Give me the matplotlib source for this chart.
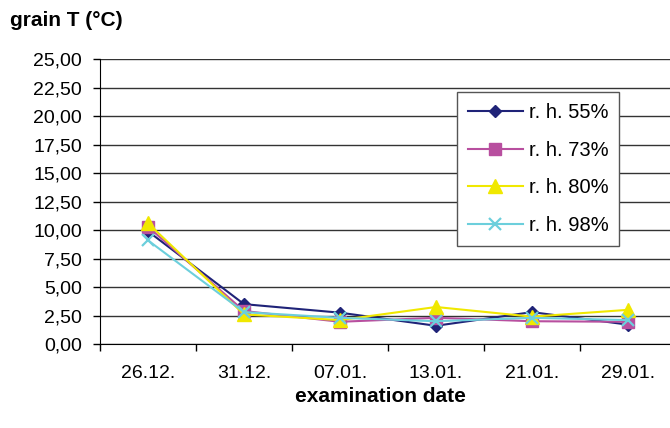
import matplotlib
matplotlib.use("Agg")
import matplotlib.pyplot as plt
from matplotlib.ticker import FuncFormatter, FixedLocator

plt.rcParams['font.family'] = ['Liberation Sans', 'DejaVu Sans']

#-----------------------------
# DATA
#-----------------------------
dates = ["26.12.", "31.12.", "07.01.", "13.01.", "21.01.", "29.01."]
rh55 = [9.9, 3.5, 2.75, 1.6, 2.8, 1.7]
rh73 = [10.3, 2.9, 1.95, 2.3, 2.0, 1.95]
rh80 = [10.6, 2.6, 2.1, 3.25, 2.4, 3.0]
rh98 = [9.1, 2.8, 2.3, 2.0, 2.3, 2.1]
labels = ["r. h. 55%", "r. h. 73%", "r. h. 80%", "r. h. 98%"]

#-----------------------------
# FIGURE
#-----------------------------
fig = plt.figure(figsize=(6.7, 4.28), dpi=100)
ax = fig.add_axes([100/670, 1-344/428, 576/670, (344-59.3)/428])

x = list(range(len(dates)))
ax.plot(x, rh55, color="#1f2378", marker="D", ms=6.5, lw=1.5, label=labels[0])
ax.plot(x, rh73, color="#b84f9f", marker="s", ms=8, lw=1.5, label=labels[1])
ax.plot(x, rh80, color="#f0e800", marker="^", ms=9.5, lw=1.5, label=labels[2])
ax.plot(x, rh98, color="#6ccfdc", marker="x", ms=8, mew=1.6, lw=1.5, label=labels[3])

# y axis
ax.set_ylim(0, 25)
ax.set_yticks([i * 2.5 for i in range(11)])
ax.yaxis.set_major_formatter(FuncFormatter(lambda v, p: f"{v:.2f}".replace(".", ",")))
ax.yaxis.grid(True, color="#333333", lw=1)
ax.set_axisbelow(True)

# x axis: ticks between categories, labels on categories
ax.set_xlim(-0.5, len(dates) - 0.5)
ax.xaxis.set_major_locator(FixedLocator([i - 0.5 for i in range(len(dates) + 1)]))
ax.xaxis.set_major_formatter(FuncFormatter(lambda v, p: ""))
ax.xaxis.set_minor_locator(FixedLocator(x))
ax.set_xticklabels(dates, minor=True)
ax.tick_params(axis="x", which="minor", length=0, pad=15, labelsize=14)
ax.tick_params(axis="x", which="major", length=5, direction="out", width=1)
ax.tick_params(axis="y", length=5, direction="out", width=1, pad=8, labelsize=14)

for s in ["top", "right"]:
    ax.spines[s].set_visible(False)
ax.spines["left"].set_color("black")
ax.spines["bottom"].set_color("black")

# legend
leg = ax.legend(loc="upper left", bbox_to_anchor=(0.62, 0.885), fontsize=14.5,
                frameon=True, fancybox=False, edgecolor="#555555", framealpha=1,
                handlelength=2.7, labelspacing=0.92, borderpad=0.55,
                handletextpad=0.3, borderaxespad=0)
leg.get_frame().set_linewidth(1)

# axis titles
fig.text(10/670, 1-20/428, "grain T (°C)", fontsize=15, fontweight="bold",
         ha="left", va="center")
fig.text(380/670, 1-397/428, "examination date", fontsize=15, fontweight="bold",
         ha="center", va="center")

plt.savefig("out.png", dpi=100)
plt.close()
